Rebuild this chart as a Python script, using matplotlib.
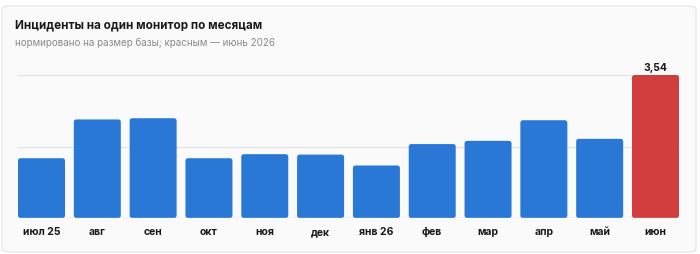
import matplotlib
matplotlib.use("Agg")
import matplotlib.pyplot as plt
from matplotlib.patches import FancyBboxPatch

months = ["июл 25", "авг", "сен", "окт", "ноя", "дек", "янв 26", "фев", "мар", "апр", "май", "июн"]
values = [1.48, 2.44, 2.47, 1.48, 1.58, 1.57, 1.30, 1.83, 1.91, 2.42, 1.96, 3.54]
highlight_index = 11
value_label = "3,54"

title = "Инциденты на один монитор по месяцам"
subtitle = "нормировано на размер базы; красным — июнь 2026"

BLUE = "#2a78d6"
RED = "#d23d3d"

plt.rcParams["font.family"] = ["Inter", "DejaVu Sans"]

fig = plt.figure(figsize=(7, 2.55), dpi=100)
fig.patch.set_facecolor("white")
card = FancyBboxPatch((2 / 700, 2 / 255), 694 / 700, 246 / 255,
                      boxstyle="round,pad=0,rounding_size=0.012",
                      transform=fig.transFigure, facecolor="#fafafa",
                      edgecolor="#e3e3e3", linewidth=0.8, zorder=-10)
fig.patches.append(card)

ax = fig.add_axes([18 / 700, 1 - 219 / 255, (679 - 18) / 700, (219 - 76) / 255])
ax.set_zorder(5)
ax.set_facecolor("none")

w = 0.842
x = list(range(len(months)))
colors = [RED if i == highlight_index else BLUE for i in x]
bars = ax.bar(x, values, width=w, color=colors, zorder=2)

ymax = max(values)
ax.set_ylim(0, ymax)
ax.set_xlim(-w / 2, len(months) - 1 + w / 2)

# rounded corners: convert each bar rectangle into a rounded box
ax_w_px = 661.0
ax_h_px = 143.0
x_per_px = (len(months) - 1 + w) / ax_w_px
y_per_px = ymax / ax_h_px
r_px = 2.5
for rect in bars:
    bx, by = rect.get_x(), rect.get_y()
    bw, bh = rect.get_width(), rect.get_height()
    fc = rect.get_facecolor()
    rect.set_visible(False)
    p = FancyBboxPatch((bx, by), bw, bh,
                       boxstyle=f"round,pad=0,rounding_size={r_px * x_per_px}",
                       mutation_aspect=y_per_px / x_per_px,
                       facecolor=fc, edgecolor="none", zorder=2)
    ax.add_patch(p)

for g in [ymax / 2, ymax]:
    ax.axhline(g, color="#e4e4e4", linewidth=0.9, zorder=1, clip_on=False)
ax.axhline(0, color="#c8c8c8", linewidth=1.0, zorder=3)

for s in ax.spines.values():
    s.set_visible(False)
ax.set_yticks([])
ax.set_xticks(x)
ax.set_xticklabels(months, fontsize=7.5, fontweight="bold", color="#1a1a1a")
ax.tick_params(axis="x", length=0, pad=6)

ax.text(highlight_index, values[highlight_index] + ymax * 0.02, value_label, ha="center", va="bottom",
        fontsize=7.5, fontweight="bold", color="#1a1a1a", clip_on=False)

fig.text(15 / 700, 1 - 25 / 255, title, fontsize=8.4, fontweight="bold", color="#1a1a1a", va="center")
fig.text(15 / 700, 1 - 43 / 255, subtitle, fontsize=7.05, color="#8a8a8a", va="center")

fig.savefig("out.png", dpi=100, facecolor="white")
